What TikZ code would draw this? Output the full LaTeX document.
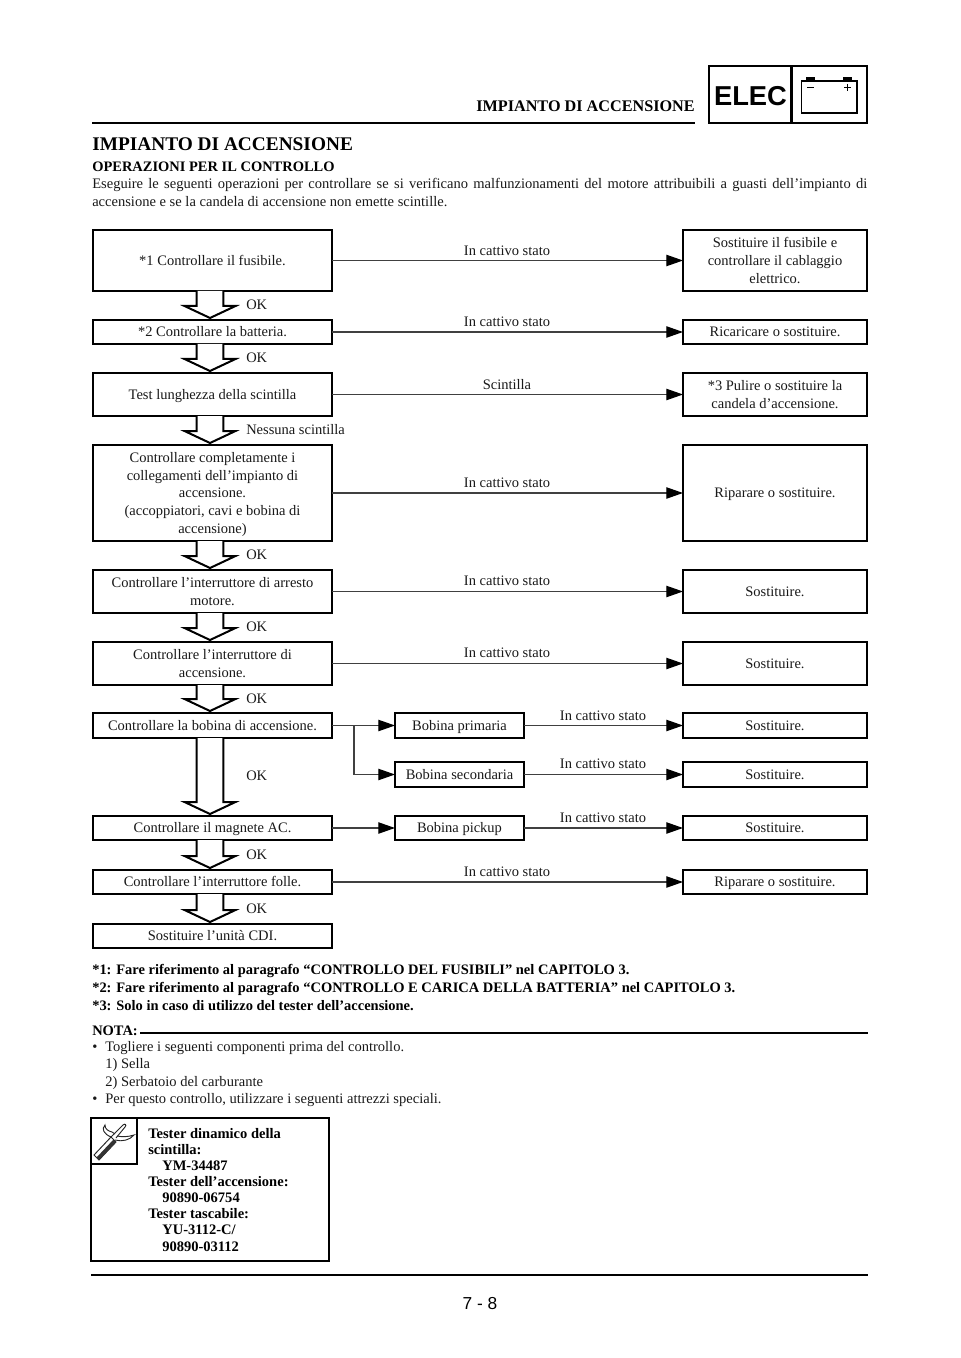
\documentclass[tikz,border=0pt]{standalone}
\usepackage{fontspec}
\setmainfont{Liberation Serif}
\newfontfamily\arialf{Liberation Sans}
\usetikzlibrary{arrows.meta,calc}
\def\pu{0.75pt}
\tikzset{
  flowbox/.style={draw=black,line width=1.9pt,fill=white,align=center,inner sep=0pt,outer sep=0pt,font=\fontsize{10.87pt}{13.2pt}\selectfont,text=black!90},
  conn/.style={draw=black!75,line width=0.9pt,-{Triangle[length=12.5pt,width=8.5pt,color=black]}},
  blockarr/.style={draw=black,line width=1.5pt,fill=white,line join=miter},
  lab/.style={font=\fontsize{10.87pt}{13.2pt}\selectfont,inner sep=0pt,text=black!90},
  body/.style={font=\fontsize{10.9pt}{13.2pt}\selectfont,inner sep=0pt,anchor=base west,text=black!90},
  bodyb/.style={font=\fontsize{10.85pt}{13.2pt}\selectfont\bfseries,inner sep=0pt,anchor=base west,text=black},
  tool/.style={font=\fontsize{10.9pt}{12pt}\selectfont\bfseries,inner sep=0pt,anchor=base west,text=black},
  rulethick/.style={line width=2.2pt,draw=black},
}
\newcommand{\bx}[6]{%
  \pgfmathsetmacro{\cxx}{(#2+#4)/2}\pgfmathsetmacro{\cyy}{(#3+#5)/2}%
  \pgfmathsetmacro{\wxx}{(#4-#2)*0.75}\pgfmathsetmacro{\hxx}{(#5-#3)*0.75}%
  \node[flowbox,minimum width=\wxx pt,minimum height=\hxx pt] (#1) at (\cxx,\cyy) {\rule{0pt}{0.9em}#6\rule[-0.22em]{0pt}{0.22em}};}
\newcommand{\blk}[3][14]{%
  \coordinate (ba) at (210,0 |- #2.south);
  \coordinate (bb) at (210,0 |- #3.north);
  \draw[blockarr] ([xshift=-13.3*\pu]ba) -- ([shift={(-13.3,-#1)}]bb) -- ([shift={(-25.5,-#1)}]bb) -- ([shift={(0,-2)}]bb) -- ([shift={(25.5,-#1)}]bb) -- ([shift={(13.3,-#1)}]bb) -- ([xshift=13.3*\pu]ba);}
\begin{document}
\begin{tikzpicture}[x=0.75pt,y=-0.75pt]
\useasboundingbox (0,0) rectangle (960,1358);
\fill[white] (0,0) rectangle (960,1358);
% header
\node[font=\fontsize{12.15pt}{14pt}\selectfont\bfseries,anchor=base east,inner sep=0pt] (hdr) at (695,112) {IMPIANTO DI ACCENSIONE};
\coordinate (hrL) at (92,123); \coordinate (hrR) at (695,123);
\draw[rulethick] (hrL) -- (hrR);
\draw[line width=2.2pt] (709,66) rectangle (867,123);
\draw[line width=2pt] (791.5,66) -- (791.5,123);
\node[font=\arialf\fontsize{20.5pt}{24pt}\selectfont\bfseries,inner sep=0pt] (elec) at (750.5,96) {ELEC};
\draw[line width=0.9pt] (801.5,81) rectangle (857,113);
\fill (806,77) rectangle (815,81);
\fill (843,77) rectangle (852,81);
\draw[line width=1.2pt] (807,87.5) -- (814,87.5);
\draw[line width=1.2pt] (844,87.5) -- (851,87.5) (847.5,84) -- (847.5,91);
% title
\node[font=\fontsize{14.5pt}{17pt}\selectfont\bfseries,anchor=base west,inner sep=0pt] (title) at (92,151) {IMPIANTO DI ACCENSIONE};
\node[bodyb] (sub) at (92,172) {OPERAZIONI PER IL CONTROLLO};
\node[font=\fontsize{10.9pt}{13.3pt}\selectfont,anchor=north west,inner sep=0pt,text width=581.25pt,align=justify,text=black!90] (para) at (92,178) {Eseguire le seguenti operazioni per controllare se si verificano malfunzionamenti del motore attribuibili a guasti dell’impianto di accensione e se la candela di accensione non emette scintille.};
% left column
\bx{a1}{93}{230}{332}{291}{*1 Controllare il fusibile.}
\bx{a2}{93}{320}{332}{344}{*2 Controllare la batteria.}
\bx{a3}{93}{373}{332}{416}{Test lunghezza della scintilla}
\bx{a4}{93}{445}{332}{541}{Controllare completamente i\\collegamenti dell’impianto di\\accensione.\\(accoppiatori, cavi e bobina di\\accensione)}
\bx{a5}{93}{570}{332}{613}{Controllare l’interruttore di arresto\\motore.}
\bx{a6}{93}{642}{332}{685}{Controllare l’interruttore di\\accensione.}
\bx{a7}{93}{713}{332}{738}{Controllare la bobina di accensione.}
\bx{a8}{93}{816}{332}{840}{Controllare il magnete AC.}
\bx{a9}{93}{870}{332}{894}{Controllare l’interruttore folle.}
\bx{a10}{93}{924}{332}{948}{Sostituire l’unità CDI.}
% right column
\bx{r1}{683}{230}{867}{291}{Sostituire il fusibile e\\controllare il cablaggio\\elettrico.}
\bx{r2}{683}{320}{867}{344}{Ricaricare o sostituire.}
\bx{r3}{683}{373}{867}{416}{*3 Pulire o sostituire la\\candela d’accensione.}
\bx{r4}{683}{445}{867}{541}{Riparare o sostituire.}
\bx{r5}{683}{570}{867}{613}{Sostituire.}
\bx{r6}{683}{642}{867}{685}{Sostituire.}
\bx{r7}{683}{713}{867}{738}{Sostituire.}
\bx{r7b}{683}{762}{867}{787}{Sostituire.}
\bx{r8}{683}{816}{867}{840}{Sostituire.}
\bx{r9}{683}{870}{867}{894}{Riparare o sostituire.}
% middle
\bx{m1}{395}{713}{524}{738}{Bobina primaria}
\bx{m2}{395}{762}{524}{787}{Bobina secondaria}
\bx{m3}{395}{816}{524}{840}{Bobina pickup}
% connectors
\foreach \i in {1,...,6,9}{\draw[conn] (a\i.east) -- (r\i.west);}
\draw[conn] (a7.east) -- (m1.west);
\coordinate (jn) at (354,0 |- a7.east);
\draw[conn] (jn) |- (m2.west);
\draw[conn] (a8.east) -- (m3.west);
\draw[conn] (m1.east) -- (r7.west);
\draw[conn] (m2.east) -- (r7b.west);
\draw[conn] (m3.east) -- (r8.west);
% block arrows
\blk{a1}{a2}\blk{a2}{a3}\blk{a3}{a4}\blk{a4}{a5}\blk{a5}{a6}\blk{a6}{a7}\blk{a7}{a8}\blk{a8}{a9}\blk{a9}{a10}
% labels
\foreach \nm/\yy in {k1/305,k2/358,k4/555,k5/627,k6/699,k7/776,k8/855,k9/909}{\node[lab,anchor=west] (\nm) at (246,\yy) {OK};}
\node[lab,anchor=west] (k3) at (246,430) {Nessuna scintilla};
\foreach \nm/\yy in {c1/251,c2/322,c4/483,c5/581,c6/653,c9/872}{\node[lab] (\nm) at (507,\yy) {In cattivo stato};}
\node[lab] (c3) at (507,385) {Scintilla};
\foreach \nm/\yy in {d1/716,d2/764,d3/818}{\node[lab] (\nm) at (603,\yy) {In cattivo stato};}
% footnotes
\node[bodyb] (f1) at (92,974) {*1: Fare riferimento al paragrafo “CONTROLLO DEL FUSIBILI” nel CAPITOLO 3.};
\node[bodyb] (f2) at (92,992) {*2: Fare riferimento al paragrafo “CONTROLLO E CARICA DELLA BATTERIA” nel CAPITOLO 3.};
\node[bodyb] (f3) at (92,1010) {*3: Solo in caso di utilizzo del tester dell’accensione.};
\node[bodyb] (nota) at (92,1035) {NOTA:};
\draw[rulethick] (140,1033) -- (868,1033);
\node[body] (b0) at (92,1051) {•};
\node[body] (n1) at (105,1051) {Togliere i seguenti componenti prima del controllo.};
\node[body] (n2) at (105,1068) {1) Sella};
\node[body] (n3) at (105,1086) {2) Serbatoio del carburante};
\node[body] (b1) at (92,1103) {•};
\node[body] (n4) at (105,1103) {Per questo controllo, utilizzare i seguenti attrezzi speciali.};
% tool box
\draw[line width=1.9pt] (91,1118) rectangle (329,1261);
\draw[line width=1.9pt] (91,1164) -- (137,1164) -- (137,1118);
\node[tool] (t1) at (148,1138) {Tester dinamico della};
\node[tool] (t2) at (148,1154) {scintilla:};
\node[tool] (t3) at (162,1170) {YM-34487};
\node[tool] (t4) at (148,1186) {Tester dell’accensione:};
\node[tool] (t5) at (162,1202) {90890-06754};
\node[tool] (t6) at (148,1218) {Tester tascabile:};
\node[tool] (t7) at (162,1234) {YU-3112-C/};
\node[tool] (t8) at (162,1251) {90890-03112};
% wrench icon
\begin{scope}[line width=0.7pt,draw=black!85]
\draw (94,1155) -- (111,1137) -- (116,1142) -- (99,1160) -- cycle;
\fill[black!80] (96.5,1157.5) -- (113.5,1139.5) -- (116,1142) -- (99,1160) -- cycle;
\draw (111,1137) -- (123,1125) .. controls (125,1123) and (127,1125) .. (125,1127) -- (116,1138);
\draw (111,1137) .. controls (104,1134) and (101,1129) .. (105,1125) .. controls (105,1129) and (108,1131) .. (112,1132) -- (115,1134);
\draw (115,1140) .. controls (122,1142) and (130,1140) .. (134,1135) .. controls (128,1137) and (122,1137) .. (117,1136);
\end{scope}
\draw[rulethick] (91,1275) -- (868,1275);
\node[font=\arialf\fontsize{13pt}{15pt}\selectfont,inner sep=0pt] (pg) at (480,1304) {7 - 8};
\end{tikzpicture}
\end{document}
